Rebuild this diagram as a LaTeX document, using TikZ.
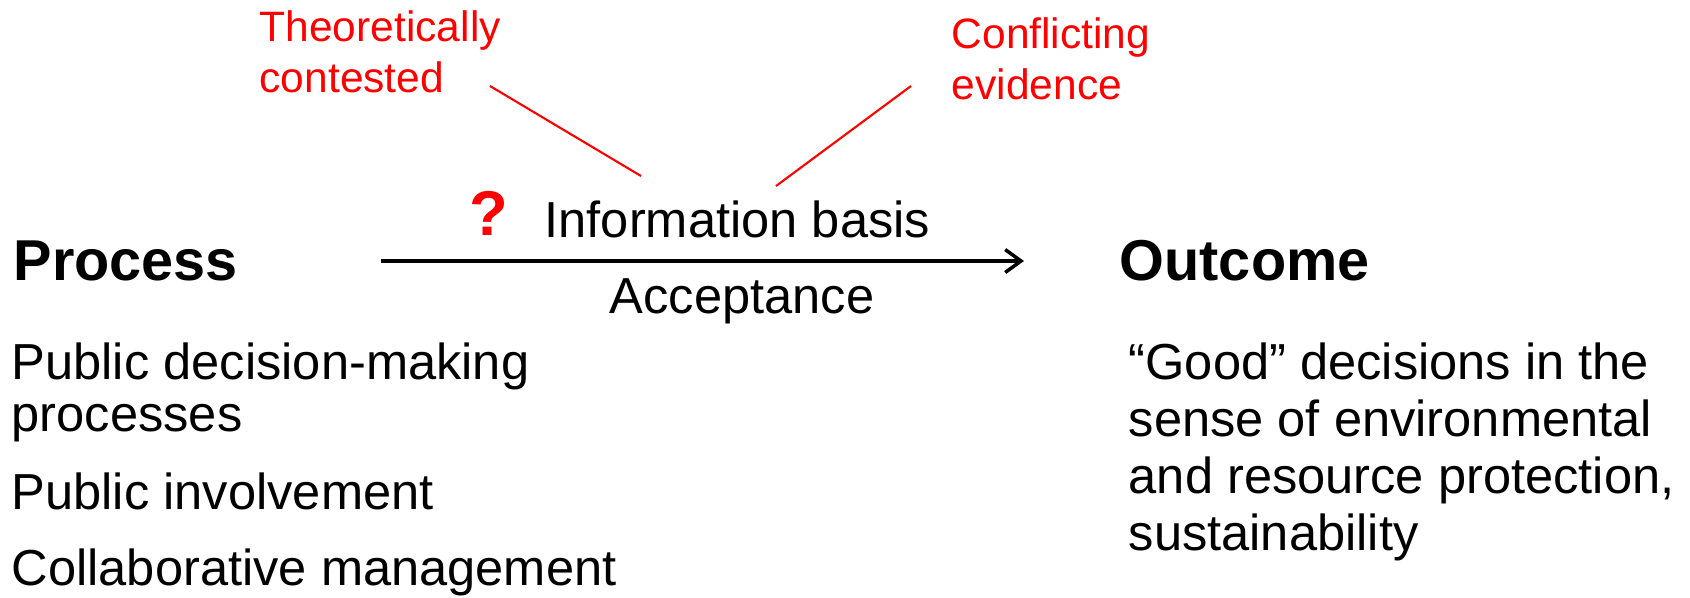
\documentclass[tikz,border=0pt]{standalone}
\usepackage{fontspec}
\setmainfont{Liberation Sans}
\usetikzlibrary{arrows.meta}

\begin{document}
\begin{tikzpicture}[
  txt/.style={anchor=base west, inner sep=0pt, align=left,
              font=\fontsize{14.4}{14.8}\selectfont},
  rtxt/.style={anchor=base west, inner sep=0pt, align=left,
               font=\fontsize{14.4}{16.2}\selectfont},
  head/.style={anchor=base west, inner sep=0pt,
               font=\fontsize{16.4}{19}\selectfont\bfseries},
  note/.style={anchor=base west, inner sep=0pt, align=left, text=red,
               font=\fontsize{12.1}{14.5}\selectfont},
  ask/.style={anchor=base west, inner sep=0pt, text=red,
              font=\fontsize{18}{20}\selectfont\bfseries},
  arr/.style={-{Straight Barb[length=4.5pt,width=6.5pt]}, line width=1pt},
  link/.style={red, line width=0.6pt},
]

  \useasboundingbox (0,0) rectangle (16.9,-5.97);

  % Headings (base = baseline)

  \node[head] (proc) at (0.13,-2.80)  {Process};
  \node[head] (outc) at (11.19,-2.80) {Outcome};

  % Left column (multi-line nodes: base = last line)

  \node[txt] (pdm)  at (0.11,-4.31) {Public decision-making\\processes};
  \node[txt] (pinv) at (0.11,-5.09) {Public involvement};
  \node[txt] (coll) at (0.11,-5.85) {Collaborative management};

  % Right column

  \node[rtxt] (good) at (11.28,-5.50)
    {``Good'' decisions in the\\sense of environmental\\and resource protection,\\sustainability};

  % Middle: arrow and its labels

  \coordinate (from) at (3.81,-2.61);
  \coordinate (to)   at (10.24,-2.61);
  \draw[arr] (from) -- (to);

  \node[ask] (q)    at (4.69,-2.35) {?};
  \node[txt] (info) at (5.44,-2.37) {Information basis};
  \node[txt] (acc)  at (6.09,-3.13) {Acceptance};

  % Red notes

  \node[note] (theo) at (2.59,-0.92) {Theoretically\\contested};
  \node[note] (conf) at (9.51,-0.99) {Conflicting\\evidence};

  \coordinate (theoend) at (6.41,-1.76);
  \coordinate (confend) at (7.76,-1.86);
  \draw[link] (4.90,-0.86) -- (theoend);
  \draw[link] (9.11,-0.86) -- (confend);

\end{tikzpicture}
\end{document}
